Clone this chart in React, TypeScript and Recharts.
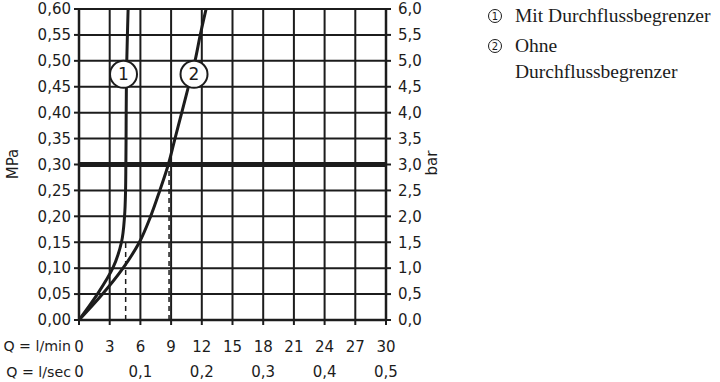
import {
  CartesianGrid,
  Line,
  LineChart,
  ReferenceDot,
  ReferenceLine,
  XAxis,
  YAxis,
} from "recharts";

const FLOW_TICKS = [0, 3, 6, 9, 12, 15, 18, 21, 24, 27, 30];
const SEC_TICKS = [0, 0.1, 0.2, 0.3, 0.4, 0.5];
const MPA_TICKS = [0, 0.05, 0.1, 0.15, 0.2, 0.25, 0.3, 0.35, 0.4, 0.45, 0.5, 0.55, 0.6];
const BAR_TICKS = [0, 0.5, 1, 1.5, 2, 2.5, 3, 3.5, 4, 4.5, 5, 5.5, 6];

// q = l/min, p = MPa
const WITH_LIMITER = [
  { q: 0, p: 0 },
  { q: 1.8, p: 0.05 },
  { q: 3.3, p: 0.1 },
  { q: 4.15, p: 0.15 },
  { q: 4.45, p: 0.2 },
  { q: 4.55, p: 0.25 },
  { q: 4.58, p: 0.3 },
  { q: 4.6, p: 0.35 },
  { q: 4.61, p: 0.4 },
  { q: 4.63, p: 0.45 },
  { q: 4.67, p: 0.5 },
  { q: 4.73, p: 0.55 },
  { q: 4.8, p: 0.6 },
];

const WITHOUT_LIMITER = [
  { q: 0, p: 0 },
  { q: 2.3, p: 0.05 },
  { q: 4.3, p: 0.1 },
  { q: 5.9, p: 0.15 },
  { q: 7.0, p: 0.2 },
  { q: 7.9, p: 0.25 },
  { q: 8.73, p: 0.3 },
  { q: 9.38, p: 0.35 },
  { q: 10.04, p: 0.4 },
  { q: 10.69, p: 0.45 },
  { q: 11.34, p: 0.5 },
  { q: 11.85, p: 0.55 },
  { q: 12.42, p: 0.6 },
];

// Fallhöhen-Hilfslinien
const DROP_WITH = [
  { q: 4.56, p: 0 },
  { q: 4.56, p: 0.15 },
];
const DROP_WITHOUT = [
  { q: 8.8, p: 0 },
  { q: 8.8, p: 0.3 },
];

const NOMINAL_PRESSURE = 0.3;

const CURVE_TAGS = [
  { q: 4.35, p: 0.474, tag: "1" },
  { q: 11.24, p: 0.474, tag: "2" },
];

const LEGEND_ITEMS = [
  { tag: "1", lines: ["Mit Durchflussbegrenzer"] },
  { tag: "2", lines: ["Ohne", "Durchflussbegrenzer"] },
];

const FONT = "DejaVu Sans";
const INK = "#1c1c1c";

const comma = (v: number, d: number) => v.toFixed(d).replace(".", ",");

// l/min -> l/sec, MPa -> bar (zweite Achsen)
const toSecBar = (pts: { q: number; p: number }[]) =>
  pts.map((d) => ({ s: d.q / 60, b: d.p * 10 }));

const AxisTitle = ({ viewBox, text, dx, dy, rotate, anchor, size = 15 }: any) => {
  const vb = viewBox || {};
  const x = vb.x + dx;
  const y = vb.y + dy;
  return (
    <text
      x={x}
      y={y}
      fill={INK}
      fontSize={size}
      fontFamily={FONT}
      textAnchor={anchor}
      dominantBaseline="central"
      transform={rotate ? `rotate(-90 ${x} ${y})` : undefined}
    >
      {text}
    </text>
  );
};

const Legend = () => (
  <svg width={238} height={90} style={{ position: "absolute", left: 480, top: 0 }}>
    {LEGEND_ITEMS.map((item, i) => {
      const top = i === 0 ? 16 : 46;
      return (
        <g key={item.tag}>
          <circle cx={15} cy={top} r={6.5} fill="none" stroke={INK} strokeWidth={1} />
          <text
            x={15}
            y={top}
            fontSize={10}
            fontFamily={FONT}
            fill={INK}
            textAnchor="middle"
            dominantBaseline="central"
          >
            {item.tag}
          </text>
          {item.lines.map((line, j) => (
            <text
              key={j}
              x={35}
              y={top + 6 + j * 26}
              fontSize={19.5}
              fontFamily="Liberation Serif"
              fill={INK}
            >
              {line}
            </text>
          ))}
        </g>
      );
    })}
  </svg>
);

export default function App() {
  return (
    <div style={{ position: "relative", width: 720, height: 382, background: "#fff", overflow: "hidden" }}>
      <style>{`html, body { margin: 0; padding: 0; overflow: hidden; }`}</style>
      <LineChart
        width={720}
        height={382}
        margin={{ top: 9, right: 274, left: 0, bottom: 4 }}
      >
        <CartesianGrid
          yAxisId="mpa"
          stroke={INK}
          strokeWidth={2}
          strokeOpacity={1}
        />
        <XAxis
          dataKey="q"
          type="number"
          domain={[0, 30]}
          ticks={FLOW_TICKS}
          interval={0}
          height={28}
          axisLine={{ stroke: INK, strokeWidth: 2.5 }}
          tickLine={{ stroke: INK, strokeWidth: 2 }}
          tickSize={5}
          tickMargin={16}
          tick={{ fontSize: 15, fill: INK, fontFamily: FONT }}
          label={(props: any) => (
            <AxisTitle {...props} text="Q = l/min" dx={-8} dy={26} anchor="end" size={14.2} />
          )}
        />
        <XAxis
          xAxisId="sec"
          dataKey="s"
          type="number"
          domain={[0, 0.5]}
          ticks={SEC_TICKS}
          interval={0}
          height={30}
          axisLine={false}
          tickLine={false}
          tickSize={0}
          tickMargin={18}
          tick={{ fontSize: 15, fill: INK, fontFamily: FONT }}
          tickFormatter={(v: number) => (v === 0 ? "0" : comma(v, 1))}
          label={(props: any) => (
            <AxisTitle {...props} text="Q = l/sec" dx={-8} dy={23.5} anchor="end" size={14.2} />
          )}
        />
        <YAxis
          yAxisId="mpa"
          type="number"
          domain={[0, 0.6]}
          ticks={MPA_TICKS}
          interval={0}
          width={79}
          axisLine={{ stroke: INK, strokeWidth: 2.5 }}
          tickLine={{ stroke: INK, strokeWidth: 2 }}
          tickSize={5}
          tickMargin={3}
          tick={{ fontSize: 15, fill: INK, fontFamily: FONT }}
          tickFormatter={(v: number) => comma(v, 2)}
          label={(props: any) => (
            <AxisTitle {...props} text="MPa" dx={13} dy={155} rotate anchor="middle" />
          )}
        />
        <YAxis
          yAxisId="bar"
          orientation="right"
          type="number"
          domain={[0, 6]}
          ticks={BAR_TICKS}
          interval={0}
          width={60}
          axisLine={{ stroke: INK, strokeWidth: 2.5 }}
          tickLine={{ stroke: INK, strokeWidth: 2 }}
          tickSize={5}
          tickMargin={7}
          tick={{ fontSize: 15, fill: INK, fontFamily: FONT }}
          tickFormatter={(v: number) => comma(v, 1)}
          label={(props: any) => (
            <AxisTitle {...props} text="bar" dx={46} dy={154} rotate anchor="middle" />
          )}
        />
        <ReferenceLine
          yAxisId="mpa"
          y={NOMINAL_PRESSURE}
          stroke={INK}
          strokeWidth={5}
        />
        <Line
          xAxisId="sec"
          yAxisId="bar"
          data={toSecBar(DROP_WITH)}
          dataKey="b"
          type="linear"
          stroke={INK}
          strokeWidth={1.5}
          strokeDasharray="5 4"
          dot={false}
          activeDot={false}
          isAnimationActive={false}
        />
        <Line
          xAxisId="sec"
          yAxisId="bar"
          data={toSecBar(DROP_WITHOUT)}
          dataKey="b"
          type="linear"
          stroke={INK}
          strokeWidth={1.5}
          strokeDasharray="5 4"
          dot={false}
          activeDot={false}
          isAnimationActive={false}
        />
        <Line
          yAxisId="mpa"
          data={WITH_LIMITER}
          dataKey="p"
          type="monotoneY"
          stroke={INK}
          strokeWidth={3}
          dot={false}
          activeDot={false}
          isAnimationActive={false}
        />
        <Line
          yAxisId="mpa"
          data={WITHOUT_LIMITER}
          dataKey="p"
          type="monotoneY"
          stroke={INK}
          strokeWidth={3}
          dot={false}
          activeDot={false}
          isAnimationActive={false}
        />
        {CURVE_TAGS.map((t) => (
          <ReferenceDot
            key={t.tag}
            yAxisId="mpa"
            x={t.q}
            y={t.p}
            r={13.5}
            fill="#fff"
            stroke={INK}
            strokeWidth={2}
            label={{ value: t.tag, position: "center", fill: INK, fontSize: 17, fontFamily: FONT }}
          />
        ))}
      </LineChart>
      <Legend />
    </div>
  );
}
